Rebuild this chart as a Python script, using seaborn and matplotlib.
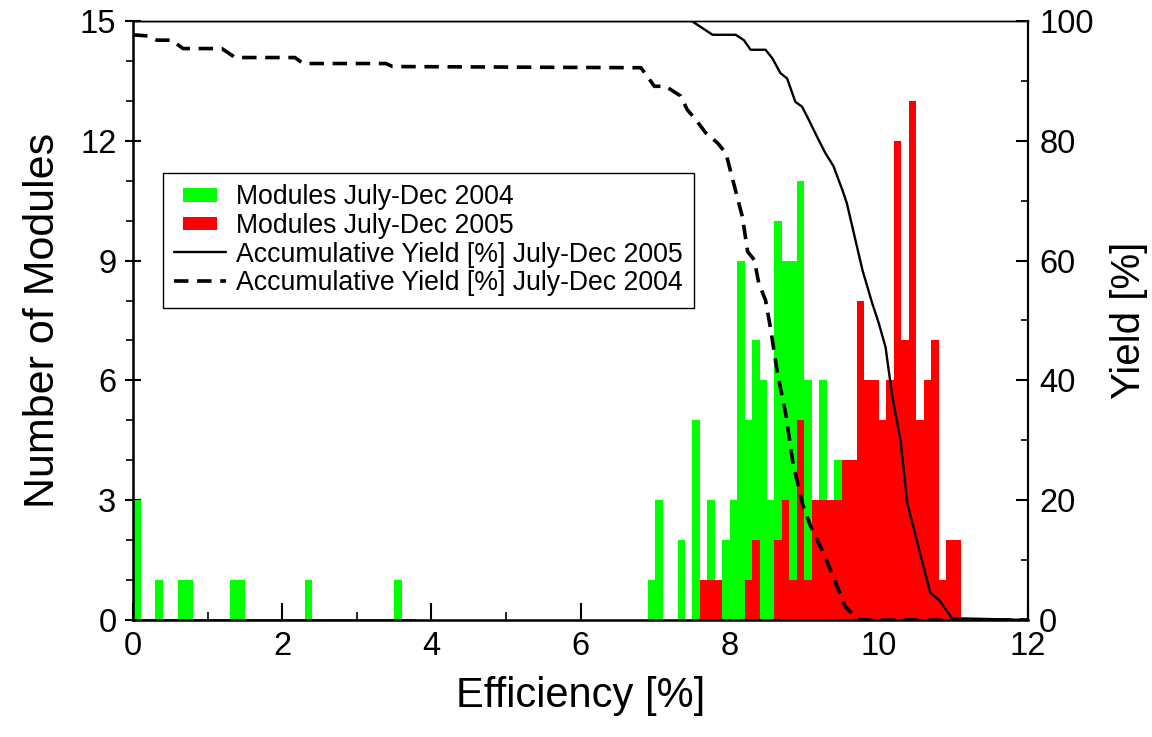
import numpy as np
import pandas as pd
import matplotlib
matplotlib.use("Agg")
import matplotlib.pyplot as plt
import matplotlib.patches as mpatches
from matplotlib.lines import Line2D
from matplotlib.legend_handler import HandlerPatch
from matplotlib.ticker import MultipleLocator
import seaborn as sns

# ---------------- data ----------------
bin_width = 0.1
# 2004 module histogram (lower bin edge -> count)
green_bins = [0.0, 0.3, 0.6, 0.7, 1.3, 1.4, 2.3, 3.5,
              6.9, 7.0, 7.3, 7.5, 7.6, 7.7, 7.8, 7.9, 8.0,
              8.1, 8.2, 8.3, 8.4, 8.5, 8.6, 8.7, 8.8, 8.9, 9.0, 9.1, 9.2, 9.3, 9.4, 9.5, 9.6]
green_counts = [3, 1, 1, 1, 1, 1, 1, 1,
                1, 3, 2, 5, 1, 3, 1, 2, 3,
                9, 5, 7, 6, 3, 10, 9, 9, 11, 6, 3, 6, 3, 4, 2, 2]
# 2005 module histogram
red_bins = [7.6, 7.7, 7.8, 8.2, 8.3, 8.6, 8.7, 8.8, 8.9,
            9.0, 9.1, 9.2, 9.3, 9.4, 9.5, 9.6, 9.7, 9.8, 9.9,
            10.0, 10.1, 10.2, 10.3, 10.4, 10.5, 10.6, 10.7, 10.8, 10.9, 11.0]
red_counts = [1, 1, 1, 1, 2, 2, 3, 1, 5,
              1, 3, 3, 3, 3, 4, 4, 8, 6, 6,
              5, 6, 12, 7, 13, 5, 6, 7, 1, 2, 2]
red_zero_range = (0.0, 3.8)   # empty 2005 bins drawn as a flat line

# accumulative yield curves [%]
yield05_x = [0.0, 7.49, 7.77, 8.08, 8.19, 8.28, 8.48, 8.57, 8.68, 8.77, 8.88, 8.97,
             9.06, 9.17, 9.28, 9.39, 9.51, 9.57, 9.78, 9.91, 10.0, 10.09, 10.18,
             10.29, 10.38, 10.69, 10.81, 10.98, 12.0]
yield05_y = [100, 100, 97.7, 97.7, 96.8, 95.2, 95.2, 93.8, 91.3, 90.4, 86.5, 85.7,
             83.5, 80.7, 78.0, 75.8, 71.8, 69.6, 58.4, 52.9, 49.5, 45.5, 37.3,
             30.0, 19.5, 4.5, 3.3, 0.3, 0.0]
yield04_x = [0.0, 0.2, 0.32, 0.52, 0.67, 1.19, 1.37, 2.17, 2.28, 3.39, 3.48, 6.81,
             6.99, 7.14, 7.34, 7.43, 7.54, 7.68, 7.84, 7.95, 8.03, 8.17, 8.24, 8.33,
             8.39, 8.48, 8.55, 8.64, 8.75, 8.85, 8.98, 9.08, 9.26, 9.44, 9.55, 9.69,
             9.75, 12.0]
yield04_y = [97.7, 97.5, 96.8, 96.8, 95.4, 95.4, 93.9, 93.9, 92.9, 92.9, 92.4, 92.2,
             89.1, 89.1, 87.5, 85.2, 83.6, 81.3, 79.6, 77.9, 74.0, 67.3, 61.5, 60.1,
             56.2, 53.4, 48.5, 41.2, 34.5, 26.0, 19.2, 15.8, 11.1, 5.6, 2.2, 0.5,
             0.0, 0.0]

labels = ["Modules July-Dec 2004", "Modules July-Dec 2005",
          "Accumulative Yield [%] July-Dec 2005", "Accumulative Yield [%] July-Dec 2004"]
green = "#00ff00"
red = "#ff0000"

# ---------------- style ----------------
sns.set_style("ticks")
plt.rcParams["font.family"] = ["Liberation Sans", "DejaVu Sans"]
for k in ["text.color", "axes.labelcolor", "xtick.color", "ytick.color", "axes.edgecolor"]:
    plt.rcParams[k] = "black"

fig = plt.figure(figsize=(11.52, 7.37), dpi=100)
ax = fig.add_axes([0.1155, 0.1588, 0.7769, 0.8127])

df_g = pd.DataFrame({"eff": np.array(green_bins) + bin_width / 2, "n": green_counts})
df_r = pd.DataFrame({"eff": np.array(red_bins) + bin_width / 2, "n": red_counts})
df_z = pd.DataFrame({"eff": [red_zero_range[0] + bin_width / 2], "n": [0]})

sns.histplot(data=df_g, x="eff", weights="n", binwidth=bin_width, binrange=(0.0, 11.1),
             color=green, alpha=1, linewidth=0, ax=ax, stat="count")
sns.histplot(data=df_r, x="eff", weights="n", binwidth=bin_width, binrange=(0.0, 11.1),
             color=red, alpha=1, linewidth=0, ax=ax, stat="count")
# empty 2005 bins (zero-height) rendered as a red line
sns.histplot(data=df_z, x="eff", weights="n", binwidth=bin_width, binrange=red_zero_range,
             color=red, edgecolor=red, alpha=1, linewidth=2.0, ax=ax, stat="count")

ax.set_xlim(0, 12)
ax.set_ylim(0, 15)
ax.xaxis.set_major_locator(MultipleLocator(2))
ax.xaxis.set_minor_locator(MultipleLocator(1))
ax.yaxis.set_major_locator(MultipleLocator(3))
ax.yaxis.set_minor_locator(MultipleLocator(1))
ax.tick_params(axis="x", which="major", direction="in", length=12, width=1.5,
               labelsize=23.5, pad=8)
ax.tick_params(axis="x", which="minor", direction="in", length=6, width=1.2)
ax.tick_params(axis="y", which="major", direction="inout", length=12, width=1.5,
               labelsize=23.5, pad=6)
ax.tick_params(axis="y", which="minor", direction="out", length=5, width=1.2)
ax.set_xlabel("Efficiency [%]", fontsize=30, labelpad=10)
ax.set_ylabel("Number of Modules", fontsize=31, labelpad=12)
for s in ["bottom", "left"]:
    ax.spines[s].set_linewidth(1.8)
ax.spines["top"].set_linewidth(1.0)
ax.spines["right"].set_linewidth(1.5)

ax2 = ax.twinx()
sns.lineplot(x=yield05_x, y=yield05_y, ax=ax2, color="black", linewidth=1.7,
             sort=False, estimator=None)
sns.lineplot(x=yield04_x, y=yield04_y, ax=ax2, color="black", linewidth=2.6,
             linestyle="--", sort=False, estimator=None)
ax2.lines[-1].set_dashes([4.0, 2.4])
ax2.set_ylim(0, 100)
ax2.set_xlim(0, 12)
ax2.yaxis.set_major_locator(MultipleLocator(20))
ax2.yaxis.set_minor_locator(MultipleLocator(10))
ax2.tick_params(axis="y", which="major", direction="in", length=9, width=1.5,
                labelsize=23.5, pad=8)
ax2.tick_params(axis="y", which="minor", direction="in", length=5, width=1.2)
ax2.set_ylabel("Yield [%]", fontsize=29, labelpad=12)
ax2.spines["right"].set_linewidth(1.5)
ax2.spines["top"].set_linewidth(1.0)

# legend
def small_rect(legend, orig_handle, xdescent, ydescent, width, height, fontsize):
    w, h = width * 0.66, height * 0.72
    return mpatches.Rectangle((-xdescent + (width - w) / 2, -ydescent + (height - h) / 2), w, h)

handles = [mpatches.Patch(facecolor=green, edgecolor="none"),
           mpatches.Patch(facecolor=red, edgecolor="none"),
           Line2D([], [], color="black", linewidth=1.7),
           Line2D([], [], color="black", linewidth=2.6, linestyle="--", dashes=[4.0, 2.4])]
leg = ax2.legend(handles, labels, loc="upper left", bbox_to_anchor=(0.0335, 0.746),
                 fontsize=19.2, frameon=True, fancybox=False, framealpha=1,
                 edgecolor="black", borderpad=0.42, labelspacing=0.1,
                 handlelength=1.95, handletextpad=0.35, borderaxespad=0,
                 handler_map={mpatches.Patch: HandlerPatch(patch_func=small_rect)})
leg.get_frame().set_linewidth(1.0)

fig.savefig("out.png", dpi=100)
